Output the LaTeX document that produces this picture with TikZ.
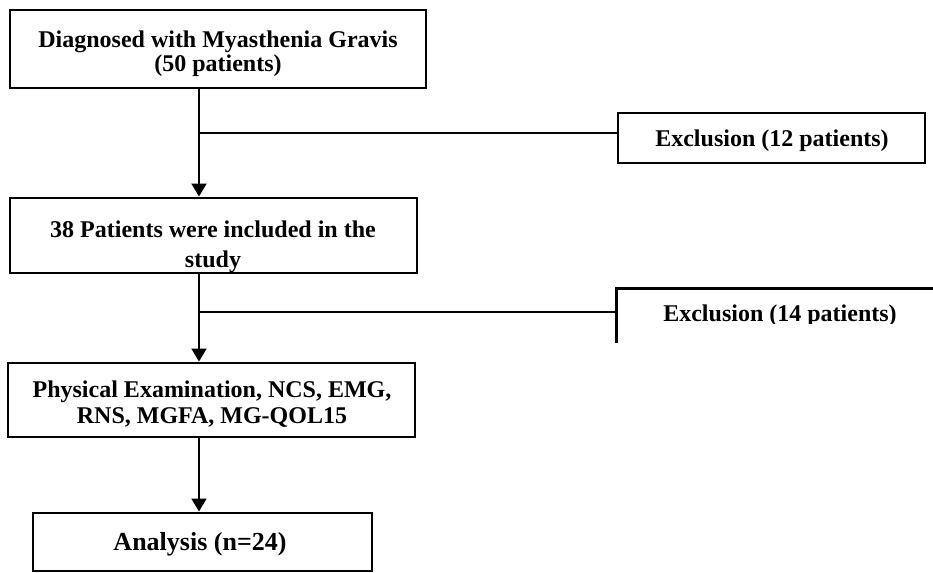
\documentclass[tikz,border=0pt]{standalone}
\usepackage{fontspec}
\setmainfont{Liberation Serif}
\usetikzlibrary{arrows.meta}
\begin{document}
\begin{tikzpicture}[x=0.75pt,y=-0.75pt,
  boxst/.style={draw,line width=2.2pt,inner sep=0pt},
  txt/.style={font=\bfseries\fontsize{18pt}{18pt}\selectfont,align=center,inner sep=0pt,anchor=base},
  conn/.style={line width=1.5pt},
  arr/.style={line width=1.5pt,-{Triangle[width=11.25pt,length=9.75pt]}}]
\useasboundingbox (0,0) rectangle (933,572);
% boxes
\node[boxst,minimum width=312pt,minimum height=58.5pt] (box1) at (218,49) {};
\node[boxst,minimum width=305.25pt,minimum height=56.25pt] (box2) at (213.5,235.5) {};
\node[boxst,minimum width=305.25pt,minimum height=55.5pt] (box3) at (211.5,400) {};
\node[boxst,minimum width=254.25pt,minimum height=43.5pt] (box4) at (202.5,542) {};
\node[boxst,minimum width=230.25pt,minimum height=37.5pt] (exc1) at (771.5,138) {};
\node[inner sep=0pt,minimum width=249.75pt,minimum height=40.5pt] (exc2) at (783.5,316) {};
\draw[line width=2.2pt] (exc2.south west) -- (exc2.north west) -- (exc2.north east);
% texts
\node[txt] (t1) at (218,71) {Diagnosed with Myasthenia Gravis\\(50 patients)};
\node[txt,font=\bfseries\fontsize{18pt}{22.5pt}\selectfont] (t2) at (213,267) {38 Patients were included in the\\study};
\node[txt,font=\bfseries\fontsize{18pt}{19.5pt}\selectfont] (t3) at (212,423) {Physical Examination, NCS, EMG,\\RNS, MGFA, MG-QOL15};
\node[txt,font=\bfseries\fontsize{19.5pt}{20pt}\selectfont] (t4) at (200,550) {Analysis (n=24)};
\node[txt] (te1) at (772,146) {Exclusion (12 patients)};
\begin{scope}
\clip (exc2.north west) rectangle (950,323);
\node[txt] (te2) at (780,321) {Exclusion (14 patients)};
\end{scope}
% connectors
\coordinate (b1) at (199,133);
\coordinate (b2) at (199,312);
\draw[arr] (b1 |- box1.south) -- (b1 |- box2.north);
\draw[conn] (b1) -- (b1 -| exc1.west);
\draw[arr] (b2 |- box2.south) -- (b2 |- box3.north);
\draw[conn] (b2) -- (b2 -| exc2.west);
\draw[arr] (b2 |- box3.south) -- (b2 |- box4.north);
\end{tikzpicture}
\end{document}
